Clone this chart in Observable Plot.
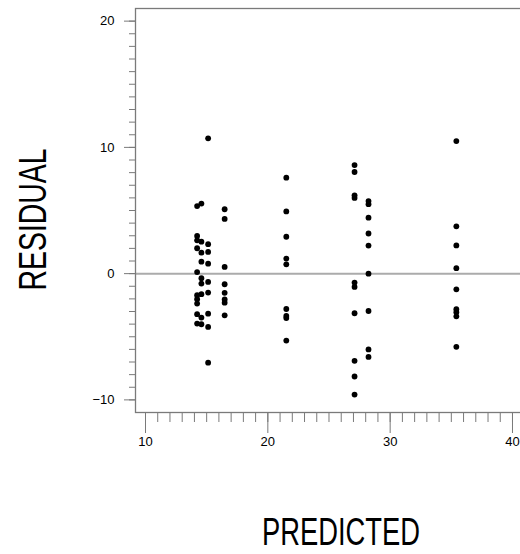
<!DOCTYPE html>
<html>
<head>
<meta charset="utf-8">
<script src="https://cdn.jsdelivr.net/npm/d3@7"></script>
<script src="https://cdn.jsdelivr.net/npm/@observablehq/plot@0.6"></script>
<style>
  html, body { margin: 0; padding: 0; background: #fff; overflow: hidden; }
</style>
</head>
<body>
<div id="chart"></div>
<script>
// Predicted values (one column of residuals for each)
const predicted = [14.22, 14.57, 15.12, 16.47, 21.51, 27.09, 28.23, 35.41];

// Residuals observed at each predicted value
const res1 = [5.35, 2.98, 2.64, 2.01, 0.12, -1.71, -2.03, -2.37, -3.21, -3.96];
const res2 = [5.55, 2.53, 1.66, 0.95, -0.36, -0.79, -1.63, -3.48, -4.01];
const res3 = [10.72, 2.33, 1.72, 0.79, -0.66, -1.50, -3.17, -4.22, -7.05];
const res4 = [5.10, 4.33, 0.53, -0.84, -1.52, -2.05, -2.30, -3.30];
const res5 = [7.60, 4.93, 2.92, 1.19, 0.74, -2.80, -3.35, -3.52, -5.30];
const res6 = [8.60, 8.05, 6.20, 6.00, -0.71, -1.05, -3.14, -6.91, -8.15, -9.58];
const res7 = [5.75, 5.50, 4.43, 3.18, 2.22, 0.00, -2.96, -6.00, -6.60];
const res8 = [10.50, 3.75, 2.23, 0.43, -1.24, -2.82, -3.05, -3.38, -5.80];

// Axis ticks
const xTicks = [10, 20, 30, 40];
const yTicks = [-10, 0, 10, 20];
const xMinorTicks = d3.range(10, 41);
const yMinorTicks = d3.range(-10, 21);

// Axis titles
const xTitle = "PREDICTED";
const yTitle = "RESIDUAL";

const residualGroups = [res1, res2, res3, res4, res5, res6, res7, res8];
const points = predicted.flatMap((p, i) =>
  residualGroups[i].map(r => ({predicted: p, residual: r}))
);

const axisGray = "#7a7a7a";
const sans = "'Liberation Sans', Arial, Helvetica, sans-serif";

const chart = Plot.plot({
  width: 520,
  height: 554,
  marginLeft: 135,
  marginRight: -6,
  marginTop: 8,
  marginBottom: 142,
  style: {fontFamily: sans, background: "#fff", color: "#000"},
  x: {domain: [9.1825, 41.145]},
  y: {domain: [-11, 21]},
  marks: [
    Plot.ruleY([0], {stroke: "#ababab", strokeWidth: 2}),
    Plot.frame({stroke: axisGray, strokeWidth: 1.3}),
    Plot.axisY(yMinorTicks, {tickSize: 6, fill: "none", stroke: axisGray}),
    Plot.axisY(yTicks, {tickSize: 11, tickPadding: 10, stroke: axisGray, fill: "#000", fontSize: 13, label: null}),
    Plot.axisX(xMinorTicks, {tickSize: 10, fill: "none", stroke: axisGray}),
    Plot.axisX(xTicks, {tickSize: 21, tickPadding: 3, stroke: axisGray, fill: "#000", fontSize: 13, label: null}),
    Plot.dot(points, {x: "predicted", y: "residual", r: 2.9, fill: "#000", stroke: "none"}),
    Plot.text([yTitle], {
      text: d => d, frameAnchor: "left", rotate: -90, dx: -102, dy: 9,
      fontSize: 38, fill: "#000", lineAnchor: "middle", textAnchor: "middle"
    }),
    Plot.text([xTitle], {
      text: d => d, frameAnchor: "bottom", dx: 10, dy: 120,
      fontSize: 38, fill: "#000", lineAnchor: "middle", textAnchor: "middle"
    })
  ]
});

// The axis titles are set in a condensed face: squeeze the glyphs horizontally.
const titleLengths = new Map([[yTitle, 142], [xTitle, 158]]);
d3.select(chart).selectAll("text").each(function () {
  const len = titleLengths.get(this.textContent);
  if (len) {
    this.setAttribute("textLength", len);
    this.setAttribute("lengthAdjust", "spacingAndGlyphs");
  }
});

document.getElementById("chart").append(chart);
</script>
</body>
</html>
